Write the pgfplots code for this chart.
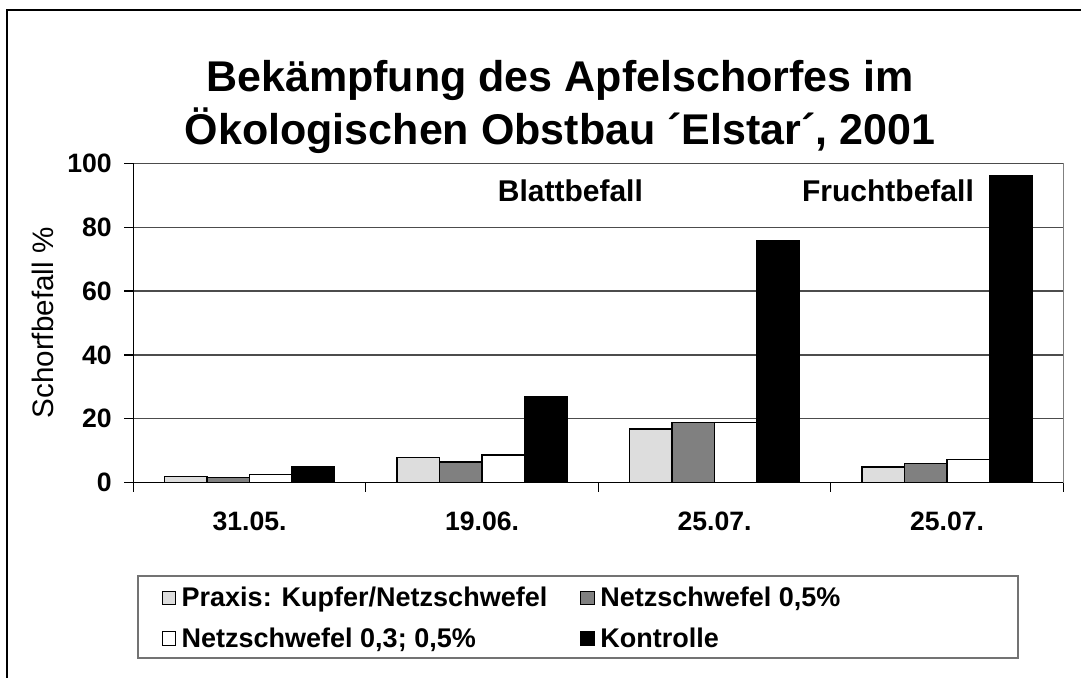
\documentclass[border=0pt]{standalone}
\usepackage{fontspec}
\setmainfont{Liberation Sans}
\usepackage{pgfplots}
\pgfplotsset{compat=1.18}
\definecolor{barLight}{HTML}{DDDDDD}
\definecolor{barMid}{HTML}{808080}

% Schorfbefall in %, Kategorien 0..3
\pgfplotstableread{
x y
0 2.0
1 7.8
2 16.8
3 4.9
}\praxis
\pgfplotstableread{
x y
0 1.6
1 6.5
2 18.9
3 6.1
}\nsfuenf
\pgfplotstableread{
x y
0 2.6
1 8.7
2 18.8
3 7.3
}\nsdrei
\pgfplotstableread{
x y
0 5.1
1 27.0
2 75.8
3 96.1
}\kontrolle

\pgfplotsset{sq/.style={legend image code/.code={%
  \draw[##1,draw=black,line width=0.5pt] (0pt,-3.4pt) rectangle (6.8pt,3.4pt);
  \path[draw=none,fill=none] (0pt,-0.1pt) rectangle (8.3pt,0.1pt);}}}

\begin{document}
\begin{tikzpicture}
\path[use as bounding box] (0,0) rectangle (540.5pt,339pt);
% Rahmen
\draw[line width=1pt] (3.5pt,-1pt) -- (3.5pt,334pt) -- (542pt,334pt);
\draw[black!55,line width=0.7pt] (69pt,10pt) rectangle (509pt,51pt);

\begin{axis}[at={(66.65pt,97.65pt)},anchor=south west,
    scale only axis,width=465pt,height=159.7pt,
    ybar=0pt,bar width=21.25pt,
    xmin=-0.5,xmax=3.5,ymin=0,ymax=100,
    axis lines=left,
    axis line style={-,black,line width=0.7pt},
    every outer x axis line/.append style={-},
    every outer y axis line/.append style={-},
    xtick={0,1,2,3},xticklabels={31.05.,19.06.,25.07.,25.07.},
    minor xtick={-0.5,0.5,1.5,2.5,3.5},
    major x tick style={draw=none},
    ytick={0,20,...,100},
    tick align=outside,major tick length=4.5pt,minor tick length=4.5pt,
    tick style={black,line width=0.6pt},
    ymajorgrids,grid style={black!70,line width=0.6pt},
    /pgf/number format/assume math mode=true,
    ticklabel style={font=\bfseries\fontsize{13.3}{15}\selectfont},
    yticklabel style={xshift=-2.8pt},
    xticklabel style={yshift=-6.5pt},
    ylabel={Schorfbefall \%},
    ylabel style={font=\fontsize{14.8}{17}\selectfont,at={(axis description cs:-0.097,0.5)},anchor=center},
    legend columns=2,
    legend cell align=left,
    legend style={draw=none,fill=none,at={(axis description cs:0.03,-0.425)},anchor=west,
      font=\bfseries\fontsize{13.5}{16}\selectfont,inner sep=0pt,row sep=6pt,
      nodes={inner sep=1.5pt}},
    /tikz/every even column/.append style={column sep=15pt},
    clip=false]
\addplot[fill=barLight,draw=black,line width=0.6pt,sq] table[x=x,y=y]{\praxis};
\addlegendentry{Praxis: Kupfer/Netzschwefel}
\addplot[fill=barMid,draw=black,line width=0.6pt,sq] table[x=x,y=y]{\nsfuenf};
\addlegendentry{Netzschwefel 0,5\%}
\addplot[fill=white,draw=black,line width=0.6pt,sq] table[x=x,y=y]{\nsdrei};
\addlegendentry{Netzschwefel 0,3; 0,5\%}
\addplot[fill=black,draw=black,line width=0.6pt,sq] table[x=x,y=y]{\kontrolle};
\addlegendentry{Kontrolle}
\draw[black!50,line width=0.6pt] (rel axis cs:1,0) -- (rel axis cs:1,1);
\node[anchor=base,font=\bfseries\fontsize{15}{18}\selectfont] at (axis cs:1.38,87.9) {Blattbefall};
\node[anchor=base,font=\bfseries\fontsize{15}{18}\selectfont] at (axis cs:2.746,87.9) {Fruchtbefall};
\end{axis}

\node[anchor=base,font=\bfseries\fontsize{21.5}{26}\selectfont] at (280pt,293pt) {Bekämpfung des Apfelschorfes im};
\node[anchor=base,font=\bfseries\fontsize{21.5}{26}\selectfont] at (280pt,266.5pt) {Ökologischen Obstbau ´Elstar´, 2001};
\end{tikzpicture}
\end{document}
